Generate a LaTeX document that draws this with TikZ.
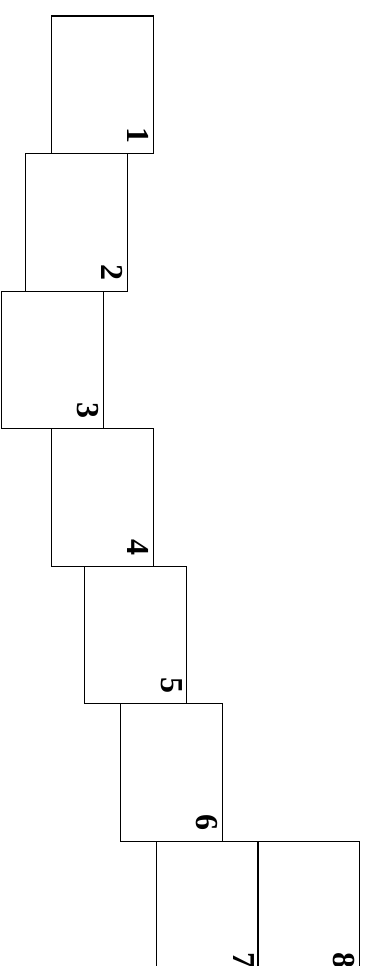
\documentclass[tikz,border=0pt]{standalone}
\usepackage{fontspec}
\setmainfont{Liberation Serif}
\usepackage{tikz}

\begin{document}
\begin{tikzpicture}[x=1pt,y=-1pt,font=\fontsize{32}{32}\selectfont\bfseries,
    sheet/.style={draw,line width=1.2pt,minimum width=102pt,minimum height=137.5pt,
      inner sep=0pt,anchor=north west},
    num/.style={rotate=-90,anchor=north east,inner xsep=11pt,inner ysep=5pt}]
  \useasboundingbox (0,0) rectangle (369,966);
  \clip (0,0) rectangle (369,966);
  \foreach \n/\x/\y in {1/50.5/15.5,2/24.5/153,3/1/290.5,4/51/428,5/84/565.5,
      6/119.5/703,7/156/840.5,8/257/840.5}
  {
    \node[sheet] (b\n) at (\x,\y) {};
    \node[num] (n\n) at (b\n.south east) {\n};
  }
\end{tikzpicture}
\end{document}
